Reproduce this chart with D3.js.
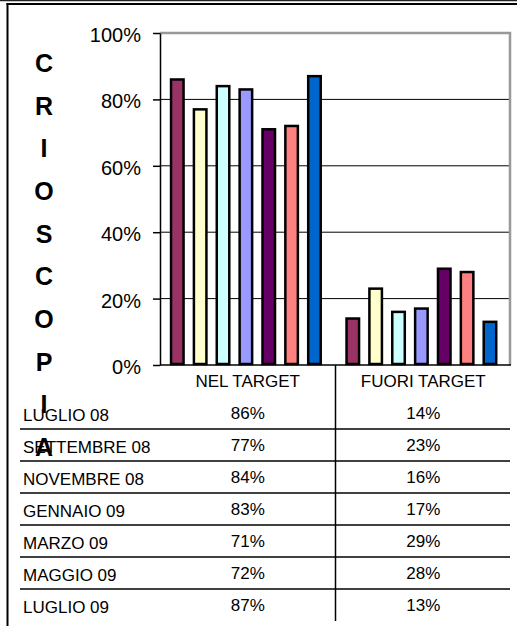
<!DOCTYPE html>
<html>
<head>
<meta charset="utf-8">
<script src="https://cdn.jsdelivr.net/npm/d3@7"></script>
<style>
  body { margin: 0; background: #fff; }
  svg { display: block; font-family: Arial, "Liberation Sans", sans-serif; }
</style>
</head>
<body>
<svg id="chart"></svg>
<script>
let categories = ["NEL TARGET", "FUORI TARGET"];
let months = ["LUGLIO 08", "SETTEMBRE 08", "NOVEMBRE 08", "GENNAIO 09", "MARZO 09", "MAGGIO 09", "LUGLIO 09"];
let nelTarget = [0.86, 0.77, 0.84, 0.83, 0.71, 0.72, 0.87];
let fuoriTarget = [0.14, 0.23, 0.16, 0.17, 0.29, 0.28, 0.13];
let yTicks = [0, 0.2, 0.4, 0.6, 0.8, 1];
let title = "CRIOSCOPIA";
let colors = ["#993366", "#ffffcc", "#ccffff", "#9999ff", "#660066", "#ff8080", "#0066cc"];

let w = 517;
let h = 626;
let svg = d3.select('#chart').attr('width', w).attr('height', h);

// frame
svg.append('line').attr('x1', 0).attr('x2', w).attr('y1', 0.5).attr('y2', 0.5)
    .attr('stroke', '#222').attr('stroke-width', 1.5);
svg.append('line').attr('x1', 6.5).attr('x2', w).attr('y1', 4).attr('y2', 4)
    .attr('stroke', '#000').attr('stroke-width', 2);
svg.append('line').attr('x1', 7.5).attr('x2', 7.5).attr('y1', 3).attr('y2', h)
    .attr('stroke', '#000').attr('stroke-width', 2);

let y = d3.scaleLinear().domain([0, 1]).range([365, 33]);
let x0 = d3.scaleBand().domain(categories).range([160, 511]);
let x1 = d3.scaleBand().domain(months).range([0, x0.bandwidth()])
    .paddingInner(0.343).paddingOuter(0.51).align(0.42);
let color = d3.scaleOrdinal().domain(months).range(colors);

// gridlines
svg.append('g').selectAll('line')
    .data(yTicks.filter(d => d > 0 && d < 1))
    .enter()
    .append('line')
    .attr('x1', 160).attr('x2', 510)
    .attr('y1', d => y(d)).attr('y2', d => y(d))
    .attr('stroke', '#000').attr('stroke-width', 1);

// plot area border (top + right)
svg.append('path')
    .attr('d', `M160,${y(1)}H510V${y(0)}`)
    .attr('fill', 'none').attr('stroke', '#999').attr('stroke-width', 2.5);

// bars
let series = [nelTarget, fuoriTarget];
categories.forEach((c, ci) => {
    svg.append('g')
        .selectAll('rect')
        .data(months.map((m, i) => ({ month: m, value: series[ci][i] })))
        .enter()
        .append('rect')
        .attr('x', d => x0(c) + x1(d.month) + 1.25)
        .attr('y', d => y(d.value))
        .attr('width', x1.bandwidth() - 2.5)
        .attr('height', d => y(0) - y(d.value) - 1)
        .attr('fill', d => color(d.month))
        .attr('stroke', '#000')
        .attr('stroke-width', 2.5);
});

// y axis
let yAxis = svg.append('g')
    .attr('transform', 'translate(160,0)')
    .call(d3.axisLeft(y).tickValues(yTicks).tickFormat(d3.format('.0%'))
        .tickSize(7).tickSizeOuter(0).tickPadding(12));
yAxis.select('.domain').attr('stroke', '#000').attr('stroke-width', 1.5);
yAxis.selectAll('.tick line').attr('stroke', '#000').attr('stroke-width', 1.5);
yAxis.selectAll('.tick text')
    .attr('font-size', 20).attr('font-family', 'Arial, "Liberation Sans", sans-serif')
    .attr('fill', '#000').attr('dy', '0.42em');

// x axis line
svg.append('line').attr('x1', 160).attr('x2', 511).attr('y1', y(0)).attr('y2', y(0))
    .attr('stroke', '#000').attr('stroke-width', 1.5);

// data table
let rowY = d3.scaleBand().domain(months).range([397, 621]);

svg.append('line').attr('x1', x0(categories[1])).attr('x2', x0(categories[1]))
    .attr('y1', y(0)).attr('y2', 621)
    .attr('stroke', '#000').attr('stroke-width', 1.5);

svg.append('g').selectAll('line')
    .data(months.slice(1))
    .enter()
    .append('line')
    .attr('x1', 20).attr('x2', 510)
    .attr('y1', d => rowY(d)).attr('y2', d => rowY(d))
    .attr('stroke', '#000').attr('stroke-width', 1.5);

svg.append('g').selectAll('text')
    .data(categories)
    .enter()
    .append('text')
    .attr('x', d => x0(d) + x0.bandwidth() / 2)
    .attr('y', 387)
    .attr('text-anchor', 'middle')
    .attr('font-size', 17)
    .text(d => d);

svg.append('g').selectAll('text')
    .data(months)
    .enter()
    .append('text')
    .attr('x', 23)
    .attr('y', d => rowY(d) + 24)
    .attr('font-size', 17)
    .text(d => d);

categories.forEach((c, ci) => {
    svg.append('g').selectAll('text')
        .data(months.map((m, i) => ({ month: m, value: series[ci][i] })))
        .enter()
        .append('text')
        .attr('x', x0(c) + x0.bandwidth() / 2)
        .attr('y', d => rowY(d.month) + 22)
        .attr('text-anchor', 'middle')
        .attr('font-size', 17)
        .text(d => d3.format('.0%')(d.value));
});

// vertical title (overlaps the table in the original too)
svg.append('g').selectAll('text')
    .data(title.split(''))
    .enter()
    .append('text')
    .attr('x', 44)
    .attr('y', (d, i) => 72 + i * 42.65)
    .attr('text-anchor', 'middle')
    .attr('font-size', 25)
    .attr('font-weight', 'bold')
    .text(d => d);
</script>
</body>
</html>
